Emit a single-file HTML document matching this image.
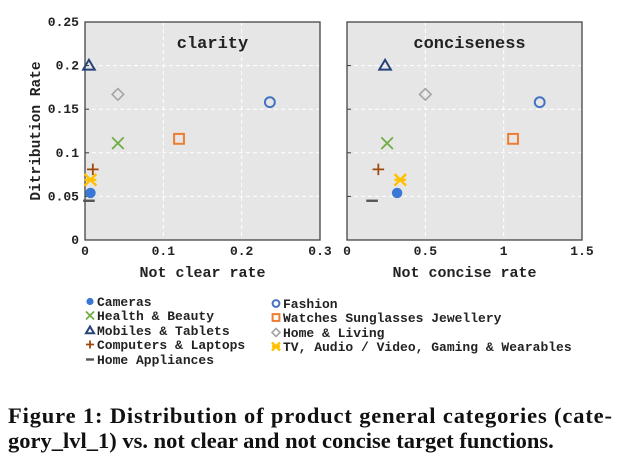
<!DOCTYPE html>
<html><head><meta charset="utf-8"><style>
body{margin:0;background:#fff;width:625px;height:465px;overflow:hidden}
svg{display:block}
.m{font-family:"Liberation Mono",monospace;font-weight:bold;fill:#222}
.c{font-family:"Liberation Serif",serif;font-weight:bold;fill:#111}
</style></head><body>
<svg id="fig" width="625" height="465"></svg>
<script>
const categories=["Cameras","Fashion","Health & Beauty","Watches Sunglasses Jewellery","Mobiles & Tablets","Home & Living","Computers & Laptops","TV, Audio / Video, Gaming & Wearables","Home Appliances"];
const distRate=[0.054,0.158,0.111,0.116,0.2,0.167,0.081,0.069,0.045];
const notClear=[0.007,0.236,0.042,0.12,0.005,0.042,0.01,0.007,0.005];
const notConcise=[0.32,1.23,0.256,1.06,0.243,0.5,0.2,0.34,0.16];
const yTicks=[0,0.05,0.1,0.15,0.2,0.25];
const yTickLabels=["0","0.05","0.1","0.15","0.2","0.25"];
const xTicks1=[0,0.1,0.2,0.3],xTickLabels1=["0","0.1","0.2","0.3"];
const xTicks2=[0,0.5,1,1.5],xTickLabels2=["0","0.5","1","1.5"];
const markers=["fcircle","circle","x","square","tri","diamond","plus","star","dash"];
const colors=["#3a78d6","#4472c4","#70ad47","#ed7d31","#264478","#a5a5a5","#9e480e","#ffc000","#555"];
const svg=document.getElementById('fig');const NS="http://www.w3.org/2000/svg";
function el(t,a,p){const e=document.createElementNS(NS,t);for(const k in a)e.setAttribute(k,a[k]);(p||svg).appendChild(e);return e;}
function marker(g,type,x,y,col,s){
 let e;
 if(type=="fcircle")e=el('circle',{cx:x,cy:y,r:s*0.9,fill:col},g);
 else if(type=="circle")e=el('circle',{cx:x,cy:y,r:s*0.85,fill:'none',stroke:col,'stroke-width':2},g);
 else if(type=="square")e=el('rect',{x:x-s*0.85,y:y-s*0.85,width:s*1.7,height:s*1.7,fill:'none',stroke:col,'stroke-width':2},g);
 else if(type=="tri")e=el('path',{d:`M${x} ${y-s}L${x+s} ${y+s*0.7}L${x-s} ${y+s*0.7}Z`,fill:'none',stroke:col,'stroke-width':2},g);
 else if(type=="diamond")e=el('path',{d:`M${x} ${y-s}L${x+s} ${y}L${x} ${y+s}L${x-s} ${y}Z`,fill:'none',stroke:col,'stroke-width':1.6},g);
 else if(type=="x")e=el('path',{d:`M${x-s} ${y-s}L${x+s} ${y+s}M${x+s} ${y-s}L${x-s} ${y+s}`,stroke:col,'stroke-width':1.8},g);
 else if(type=="plus")e=el('path',{d:`M${x-s} ${y}L${x+s} ${y}M${x} ${y-s}L${x} ${y+s}`,stroke:col,'stroke-width':1.8},g);
 else if(type=="star")e=el('path',{d:`M${x-s} ${y-s}L${x+s} ${y+s}M${x+s} ${y-s}L${x-s} ${y+s}M${x-s} ${y}L${x+s} ${y}`,stroke:col,'stroke-width':2.4},g);
 else e=el('path',{d:`M${x-s} ${y}L${x+s} ${y}`,stroke:col,'stroke-width':2.4},g);
 return e;
}
const Y0=240,Y1=22;
function ys(v){return Y0+(Y1-Y0)*v/0.25;}
function panel(name,L,R,xmax,xt,xl,xs,title,xlabel,showY){
 const g=el('g',{});
 
 
 const xsc=v=>L+(R-L)*v/xmax;
 el('rect',{x:L,y:Y1,width:R-L,height:Y0-Y1,fill:'#e6e6e6'},g);
 yTicks.forEach((t,i)=>{if(t>0&&t<0.25)el('line',{x1:L,x2:R,y1:ys(t),y2:ys(t),stroke:'#fff','stroke-dasharray':'4,3'},g);
  el('line',{x1:L,x2:L+4,y1:ys(t),y2:ys(t),stroke:'#333'},g);
  if(showY){const tx=el('text',{x:L-6,y:ys(t)+4,'text-anchor':'end','font-size':13,class:'m'},g);tx.textContent=yTickLabels[i];}});
 xt.forEach((t,i)=>{if(t>0&&t<xmax)el('line',{x1:xsc(t),x2:xsc(t),y1:Y1,y2:Y0,stroke:'#fff','stroke-dasharray':'4,3'},g);
  const tx=el('text',{x:xsc(t),y:Y0+15,'text-anchor':'middle','font-size':13,class:'m'},g);tx.textContent=xl[i];});
 el('rect',{x:L,y:Y1,width:R-L,height:Y0-Y1,fill:'none',stroke:'#444','stroke-width':1.3},g);
 const tt=el('text',{x:(L+R)/2+(showY?10:5),y:48,'text-anchor':'middle','font-size':17,class:'m'},g);tt.textContent=title;
 
 const xlab=el('text',{x:(L+R)/2,y:277,'text-anchor':'middle','font-size':15,class:'m'},g);xlab.textContent=xlabel;
 
 categories.forEach((c,i)=>{const m=marker(g,markers[i],xsc(xs[i]),ys(distRate[i]),colors[i],5.8);
  
  });
}
panel('clarity-panel',85,320,0.3,xTicks1,xTickLabels1,notClear,'clarity','Not clear rate',true);
panel('conciseness-panel',347,582,1.5,xTicks2,xTickLabels2,notConcise,'conciseness','Not concise rate',false);
const yl=el('text',{x:0,y:0,transform:'translate(40,131) rotate(-90)','text-anchor':'middle','font-size':14.5,class:'m'});yl.textContent='Ditribution Rate';


const legPos=[[90,306],[276,308],[90,320],[276,322],[90,335],[276,337],[90,349],[276,351],[90,364]];
const legOrder=[0,1,2,3,4,5,6,7,8];
legOrder.forEach((i,k)=>{const [x,y]=legPos[k];const lg=el('g',{});
 
 
 marker(lg,markers[i],x,y-4.5,colors[i],4);
 const t=el('text',{x:x+7,y:y,'font-size':13,class:'m'},lg);t.textContent=categories[i];});
const c1=el('text',{x:8,y:423,'font-size':22.5,class:'c',textLength:604,lengthAdjust:'spacing'});c1.textContent='Figure 1: Distribution of product general categories (cate-';

const c2=el('text',{x:8,y:448,'font-size':22.5,class:'c'});c2.textContent='gory_lvl_1) vs. not clear and not concise target functions.';

</script>
</body></html>
